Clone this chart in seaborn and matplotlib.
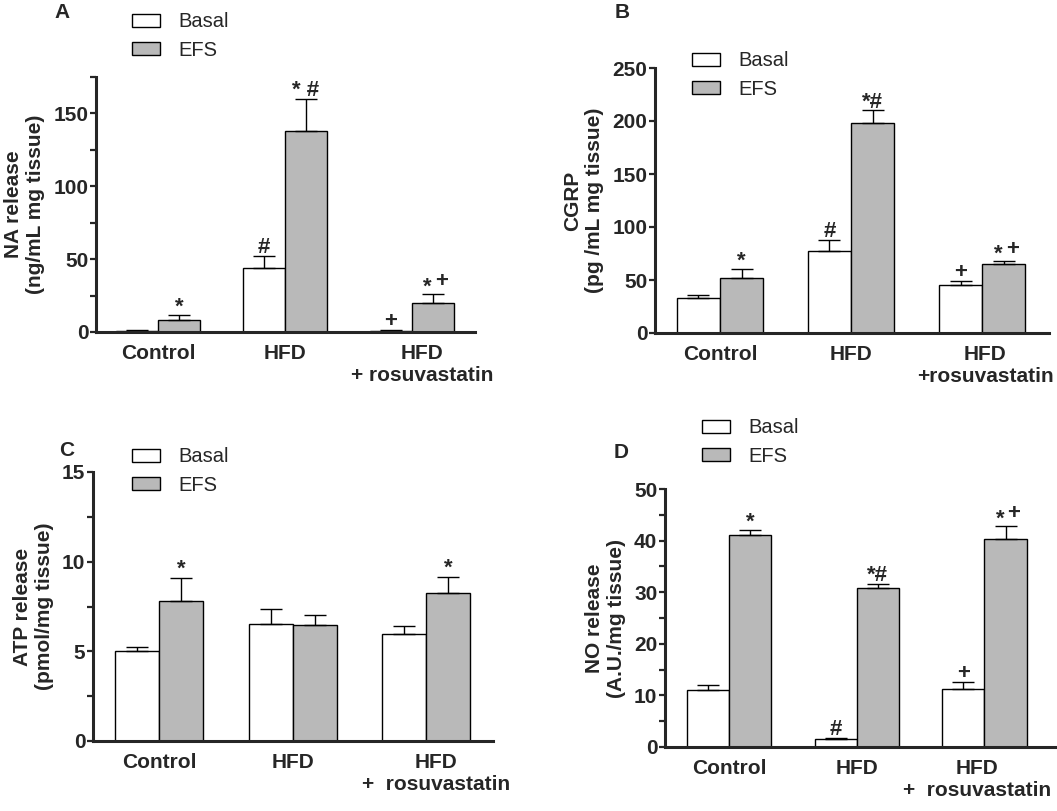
import numpy as np
import pandas as pd
import matplotlib
matplotlib.use("Agg")
import matplotlib.pyplot as plt
import matplotlib.transforms as mtransforms
from matplotlib.patches import Patch
from matplotlib.ticker import MultipleLocator
import seaborn as sns

# =========================================
# DATA
# =========================================

groups = ["Control", "HFD", "HFD + rosuvastatin"]
conditions = ["Basal", "EFS"]

# A - NA release
na_basal = [0.8, 44.0, 1.0]
na_basal_err = [0.4, 8.0, 0.4]
na_efs = [8.0, 138.0, 20.0]
na_efs_err = [3.5, 22.0, 6.0]
na_marks_basal = ["", "#", "+"]
na_marks_efs = ["*", "* #", "*+"]

# B - CGRP
cgrp_basal = [33.0, 77.0, 45.0]
cgrp_basal_err = [3.0, 11.0, 4.0]
cgrp_efs = [52.0, 198.0, 65.0]
cgrp_efs_err = [8.0, 12.0, 2.5]
cgrp_marks_basal = ["", "#", "+"]
cgrp_marks_efs = ["*", "*#", "*+"]

# C - ATP release
atp_basal = [5.0, 6.5, 5.95]
atp_basal_err = [0.25, 0.85, 0.45]
atp_efs = [7.8, 6.45, 8.25]
atp_efs_err = [1.3, 0.55, 0.9]
atp_marks_basal = ["", "", ""]
atp_marks_efs = ["*", "", "*"]

# D - NO release
no_basal = [11.0, 1.6, 11.2]
no_basal_err = [1.0, 0.2, 1.4]
no_efs = [41.0, 30.8, 40.3]
no_efs_err = [1.0, 0.8, 2.5]
no_marks_basal = ["", "#", "+"]
no_marks_efs = ["*", "*#", "*+"]

# =========================================
# STYLE
# =========================================

sns.set_style("ticks")
plt.rcParams["font.family"] = ["Liberation Sans", "DejaVu Sans"]

W, H = 1057, 811
fig = plt.figure(figsize=(W / 100, H / 100), dpi=100)

colors = ["white", "#b9b9b9"]


def px_axes(left, right, top, bottom):
    return fig.add_axes([left / W, 1 - bottom / H, (right - left) / W, (bottom - top) / H])


def mark(ax, text, x, y, dx=0, dy=2):
    ax.annotate(text, (x, y), xytext=(dx, dy), textcoords="offset points",
                ha="center", va="baseline", fontsize=16, fontweight="bold")


def draw_panel(ax, basal, basal_err, efs, efs_err, marks_basal, marks_efs,
               ylim, major, minor, ylabel, xlabels, xlim, shift, letter, letter_xy, leg_xy):

    df = pd.DataFrame({
        "group": groups * 2,
        "condition": ["Basal"] * 3 + ["EFS"] * 3,
        "value": basal + efs,
    })

    sns.barplot(
        data=df, x="group", y="value", hue="condition",
        order=groups, hue_order=conditions,
        palette=colors, saturation=1, width=0.66,
        edgecolor="black", linewidth=1.0,
        errorbar=None, legend=False, ax=ax
    )

    errs = basal_err + efs_err
    marks = marks_basal + marks_efs
    for bar, e, m in zip(ax.patches, errs, marks):
        x = bar.get_x() + bar.get_width() / 2
        h = bar.get_height()
        ax.errorbar(x, h, yerr=[[0], [e]], fmt="none", ecolor="black",
                    elinewidth=1.0, capsize=8, capthick=1.0)
        if m == "*+":
            # raised plus next to the star
            mark(ax, "*", x, h + e, dx=-4, dy=1)
            mark(ax, "+", x, h + e, dx=6, dy=5)
        elif m:
            mark(ax, m, x, h + e)

    ax.set_ylim(*ylim)
    ax.set_xlim(*xlim)
    ax.yaxis.set_major_locator(MultipleLocator(major))
    if minor:
        ax.yaxis.set_minor_locator(MultipleLocator(minor))
    ax.tick_params(axis="y", which="both", direction="out", length=4.5, width=1.6,
                   pad=1, labelsize=15)
    ax.tick_params(axis="x", length=0, pad=9, labelsize=15)
    for lab in ax.get_yticklabels():
        lab.set_fontweight("bold")

    ax.set_xticks(range(3))
    ax.set_xticklabels(xlabels, fontweight="bold")
    off = mtransforms.ScaledTranslation(shift / 100, 0, fig.dpi_scale_trans)
    lab3 = ax.get_xticklabels()[2]
    lab3.set_transform(lab3.get_transform() + off)

    ax.set_xlabel("")
    ax.set_ylabel(ylabel, fontsize=15, fontweight="bold", labelpad=6)

    sns.despine(ax=ax)
    for sp in ["left", "bottom"]:
        ax.spines[sp].set_linewidth(2.2)

    fig.text(letter_xy[0] / W, 1 - letter_xy[1] / H, letter, fontsize=15,
             fontweight="bold", ha="center", va="center")

    handles = [Patch(facecolor=c, edgecolor="black", linewidth=1.0) for c in colors]
    ax.legend(handles, conditions, loc="center left",
              bbox_to_anchor=(leg_xy[0] / W, 1 - leg_xy[1] / H),
              bbox_transform=fig.transFigure, frameon=False, fontsize=14.5,
              handlelength=1.4, handleheight=0.65, handletextpad=0.9,
              labelspacing=0.45, borderpad=0, borderaxespad=0)


# =========================================
# PANELS
# =========================================

axA = px_axes(96, 475, 77, 332)
draw_panel(axA, na_basal, na_basal_err, na_efs, na_efs_err, na_marks_basal, na_marks_efs,
           (0, 175), 50, 25, "NA release\n(ng/mL mg tissue)",
           ["Control", "HFD", "HFD\n+ rosuvastatin"], (-0.488, 2.496), 10,
           "A", (62, 13), (132, 36))

axB = px_axes(655, 1049, 68, 333)
draw_panel(axB, cgrp_basal, cgrp_basal_err, cgrp_efs, cgrp_efs_err, cgrp_marks_basal, cgrp_marks_efs,
           (0, 250), 50, None, "CGRP\n(pg /mL mg tissue)",
           ["Control", "HFD", "HFD\n+rosuvastatin"], (-0.496, 2.51), 3,
           "B", (622, 13), (692, 75))

axC = px_axes(93, 493, 472, 741)
draw_panel(axC, atp_basal, atp_basal_err, atp_efs, atp_efs_err, atp_marks_basal, atp_marks_efs,
           (0, 15), 5, 2.5, "ATP release\n(pmol/mg tissue)",
           ["Control", "HFD", "HFD\n+  rosuvastatin"], (-0.494, 2.50), 10,
           "C", (67, 450), (132, 471))

axD = px_axes(665, 1056, 489, 747)
draw_panel(axD, no_basal, no_basal_err, no_efs, no_efs_err, no_marks_basal, no_marks_efs,
           (0, 50), 10, 5, "NO release\n(A.U./mg tissue)",
           ["Control", "HFD", "HFD\n+  rosuvastatin"], (-0.50, 2.56), -7,
           "D", (621, 453), (702, 442))

fig.savefig("out.png", dpi=100)
plt.close()
